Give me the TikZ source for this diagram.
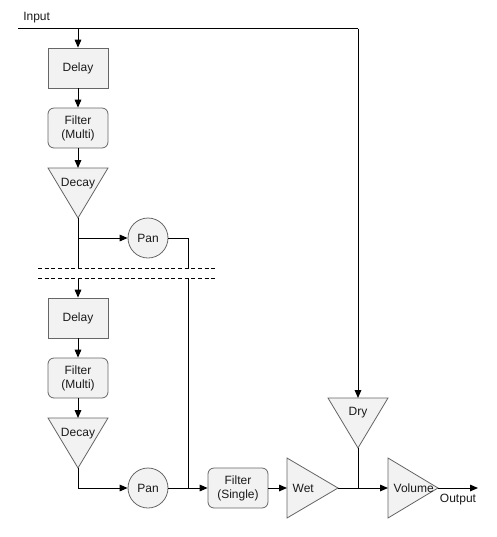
\documentclass[tikz,border=0pt]{standalone}
\usepackage{fontspec}
\setmainfont{Liberation Sans}
\usetikzlibrary{arrows.meta}
\definecolor{shapefill}{HTML}{F2F2F2}
\definecolor{shapeline}{HTML}{666666}
\definecolor{txt}{HTML}{1A1A1A}
\begin{document}
\begin{tikzpicture}[x=0.75pt,y=-0.75pt,
  every node/.style={font=\fontsize{9pt}{10.5pt}\selectfont, text=txt},
  blockbox/.style={draw=shapeline, fill=shapefill, line width=0.6pt, minimum width=45pt, minimum height=30pt, inner sep=0pt, align=center},
  roundbox/.style={blockbox, rounded corners=4.5pt},
  pancirc/.style={draw=shapeline, fill=shapefill, line width=0.6pt, circle, minimum size=30pt, inner sep=0pt},
  tri/.style={draw=shapeline, fill=shapefill, line width=0.6pt},
  conn/.style={line width=0.75pt, black},
  arr/.style={conn, -{Triangle[length=6pt,width=5pt]}},
  sep/.style={line width=0.6pt, black, dash pattern=on 3pt off 2pt}
]
\useasboundingbox (0,0) rectangle (497,537);

% Input line
\coordinate (inL) at (18,28.5);
\coordinate (inR) at (358,28.5);
\coordinate (inA) at (78,28.5);
\node[anchor=west, inner sep=0pt] (inputlbl) at (23,18) {Input};

% first chain
\node[blockbox] (delay1) at (78,68) {Delay};
\node[roundbox] (filter1) at (78,128) {Filter\\(Multi)};
\draw[tri] (48,168) coordinate (dc1a) -- (108,168) -- (78,218) coordinate (dc1) -- cycle;
\node (decay1lbl) at (78,184) {Decay};
\node[pancirc] (pan1) at (148,238) {Pan};

% separators
\coordinate (s1L) at (38,268);
\coordinate (s1R) at (216,268);
\coordinate (s2L) at (38,278);
\coordinate (s2R) at (216,278);
\draw[sep] (s1L) -- (s1R);
\draw[sep] (s2L) -- (s2R);

% second chain
\node[blockbox] (delay2) at (78,318) {Delay};
\node[roundbox] (filter2) at (78,378) {Filter\\(Multi)};
\draw[tri] (48,418) -- (108,418) -- (78,468) coordinate (dc2) -- cycle;
\node (decay2lbl) at (78,434) {Decay};
\node[pancirc] (pan2) at (148,488) {Pan};

% output section
\node[roundbox] (filterS) at (238,488) {Filter\\(Single)};
\draw[tri] (287,458) coordinate (wetin) -- (287,518) -- (338,488) coordinate (wetout) -- cycle;
\coordinate (wetL) at (287,488);
\node[anchor=west] (wetlbl) at (288,488) {Wet};
\draw[tri] (328,398) -- (388,398) -- (358,448) coordinate (dryout) -- cycle;
\coordinate (dryin) at (358,398);
\node (drylbl) at (358,413) {Dry};
\draw[tri] (388,458) -- (388,518) -- (438,488) coordinate (volout) -- cycle;
\coordinate (volL) at (388,488);
\node[anchor=west] (vollbl) at (389,488) {Volume};
\coordinate (outend) at (478,488);
\node (outlbl) at (458,500) {Output};

% connectors
\draw[conn] (inL) -- (inR);
\draw[arr] (inA) -- (delay1.north);
\draw[arr] (delay1) -- (filter1);
\draw[arr] (filter1.south) -- (dc1a -| filter1.south);
\draw[conn] (dc1) -- (dc1 |- s1L);
\draw[arr] (dc1 |- pan1) -- (pan1.west);
\draw[conn] (pan1.east) -- (188,238) -- (188,268);
\draw[arr] (78,278) -- (delay2.north);
\draw[arr] (delay2) -- (filter2);
\draw[arr] (filter2.south) -- (78,418);
\draw[arr] (dc2) -- (dc2 |- pan2) -- (pan2.west);
\draw[conn] (188,278) -- (188,488);
\draw[arr] (pan2.east) -- (filterS.west);
\draw[arr] (filterS.east) -- (wetL);
\draw[arr] (inR) -- (dryin);
\draw[arr] (wetout) -- (volL);
\draw[conn] (dryout) -- (dryout |- wetout);
\draw[arr] (volout) -- (outend);
\end{tikzpicture}
\end{document}
